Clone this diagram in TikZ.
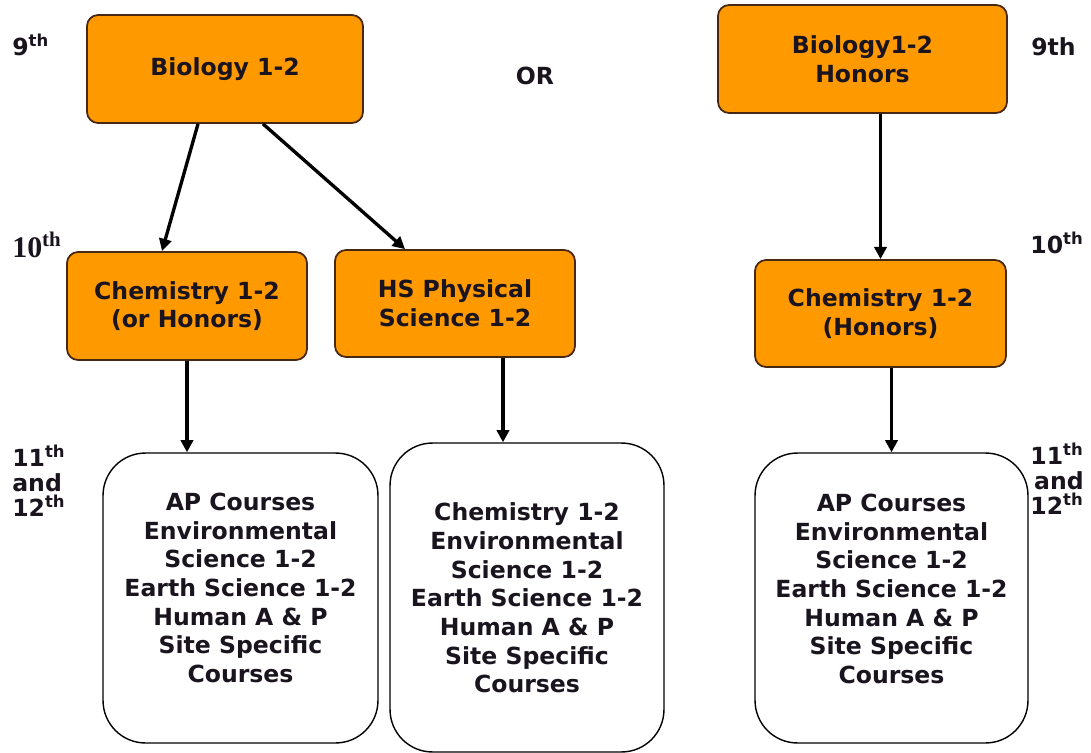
\documentclass[tikz,border=0pt]{standalone}
\usepackage{fontspec}
\setmainfont{DejaVu Sans}
\newfontfamily\serifbold{Liberation Serif}
\usepackage{xcolor}
\usetikzlibrary{arrows.meta, positioning}
\definecolor{courseorange}{RGB}{255,153,0}
\definecolor{edgebrown}{RGB}{70,40,20}
\definecolor{inkdark}{RGB}{25,20,30}

\begin{document}
\begin{tikzpicture}[
    x=0.02cm, y=-0.02cm,
    course/.style={rectangle, draw=edgebrown, line width=1pt, fill=courseorange, rounded corners=0.22cm,
        minimum height=2.16cm, align=center, text=inkdark, font=\fontsize{13.4}{16.3}\selectfont\bfseries},
    choices/.style={rectangle, draw=black, line width=0.8pt, rounded corners=0.85cm, minimum width=5.5cm, minimum height=5.8cm},
    choicetext/.style={align=center, text=inkdark, font=\fontsize{13.4}{16.3}\selectfont\bfseries},
    grade/.style={text=inkdark, font=\fontsize{13.4}{14.2}\selectfont\bfseries, inner sep=0pt},
    path/.style={line width=1.9pt, -{Triangle[length=7pt, width=7pt]}}
]
\useasboundingbox (0,0) rectangle (1091,753);

% Standard track (left)
\node[course, minimum width=5.52cm] (bio) at (225,69) {Biology 1-2};
\node[course, minimum width=4.8cm] (chemL) at (187,306) {Chemistry 1-2\\(or Honors)};
\node[course, minimum width=4.8cm, minimum height=2.14cm] (hs) at (455,303.5) {HS Physical\\Science 1-2};
\node[choices] (botL) at (240.5,598) {};
\node[choicetext] (botLtxt) at (240.5,588) {AP Courses\\Environmental\\Science 1-2\\Earth Science 1-2\\Human A \& P\\Site Specific\\Courses};
\node[choices, minimum width=5.48cm, minimum height=6.18cm] (botM) at (527,597.5) {};
\node[choicetext] (botMtxt) at (527,598) {Chemistry 1-2\\Environmental\\Science 1-2\\Earth Science 1-2\\Human A \& P\\Site Specific\\Courses};

% Honors track (right)
\node[grade] (or) at (535,76) {OR};
\node[course, minimum width=5.78cm] (bioH) at (862.5,59) {Biology1-2\\Honors};
\node[course, minimum width=5.02cm, minimum height=2.14cm] (chemH) at (880.5,313.5) {Chemistry 1-2\\(Honors)};
\node[choices, minimum width=5.46cm] (botR) at (891.5,598) {};
\node[choicetext] (botRtxt) at (891.5,589) {AP Courses\\Environmental\\Science 1-2\\Earth Science 1-2\\Human A \& P\\Site Specific\\Courses};

% Grade labels
\node[grade, anchor=west] (g9L) at (12,45) {9\textsuperscript{th}};
\node[grade, anchor=west, font=\fontsize{17}{17}\selectfont\serifbold\bfseries] (g10L) at (12,245) {10\textsuperscript{th}};
\node[grade, anchor=west, align=left] (g11L) at (12,481) {11\textsuperscript{th}\\and\\12\textsuperscript{th}};
\node[grade, anchor=east] (g9R) at (1076,47) {9th};
\node[grade, anchor=east] (g10R) at (1084,243) {10\textsuperscript{th}};
\node[grade, anchor=east, align=right] (g11R) at (1084,479) {11\textsuperscript{th}\\and\\12\textsuperscript{th}};

% Arrows
\draw[path] ([xshift=-0.54cm]bio.south) -- ([xshift=-0.5cm]chemL.north);
\draw[path] ([xshift=0.76cm]bio.south) -- ([xshift=-1.0cm]hs.north);
\draw[path] (chemL.south) -- (chemL.south |- botL.north);
\draw[path] ([xshift=0.96cm]hs.south) -- ([xshift=0.96cm]hs.south |- botM.north);
\draw[path] (bioH.south -| chemH.north) -- (chemH.north);
\draw[path] (chemH.south -| botR.north) -- (botR.north);
\end{tikzpicture}
\end{document}
